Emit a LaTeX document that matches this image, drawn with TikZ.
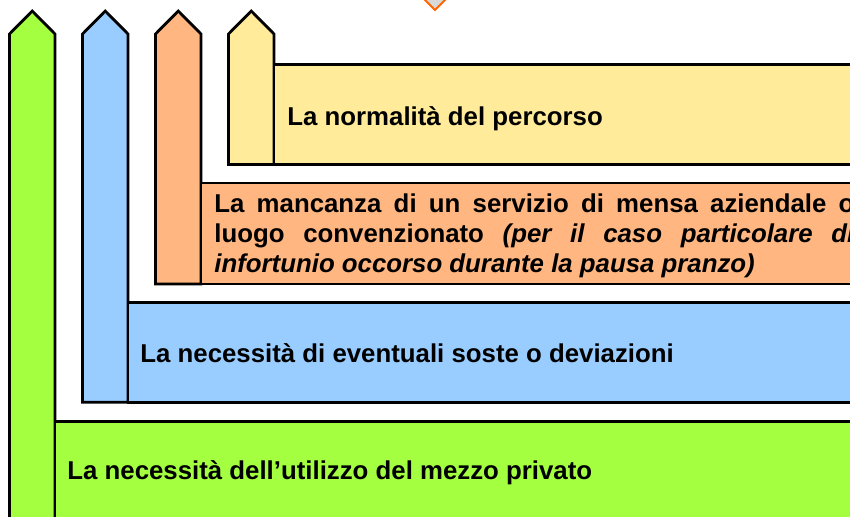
\documentclass[tikz,border=0pt]{standalone}
\usepackage{fontspec}
\setmainfont{Liberation Sans}
\definecolor{verde}{RGB}{163,255,63}
\definecolor{azzurro}{RGB}{153,204,255}
\definecolor{arancio}{RGB}{255,182,128}
\definecolor{giallo}{RGB}{255,235,153}
\definecolor{bordo}{RGB}{255,102,0}
\definecolor{grigio}{RGB}{217,217,217}

\begin{document}
\begin{tikzpicture}[x=1pt,y=-1pt,line width=2.8pt,
  testo/.style={anchor=base west,inner sep=0pt,font=\fontsize{25.8}{30}\selectfont\bfseries}]
\useasboundingbox (0,0) rectangle (850,516);
\clip (0,0) rectangle (850,516);

\draw[bordo,line width=2pt,fill=grigio] (421,-4) -- (435,10) -- (449,-4);

\draw[fill=verde] (9.5,530) -- (9.5,34) -- (32.25,11) -- (55,34) -- (55,530);
\draw[fill=azzurro] (82.5,402.3) -- (82.5,34) -- (105.25,11) -- (128,34) -- (128,402.3) -- cycle;
\draw[fill=arancio] (155.5,284) -- (155.5,34) -- (178.25,11) -- (201,34) -- (201,284) -- cycle;
\draw[fill=giallo] (228.5,164.5) -- (228.5,34) -- (251.25,11) -- (274,34) -- (274,164.5) -- cycle;

\draw[fill=giallo] (274,64.5) rectangle (870,164.5);
\draw[fill=arancio] (201,183) rectangle (870,284);
\draw[fill=azzurro] (128,302.3) rectangle (870,402.3);
\draw[fill=verde] (55,421.3) rectangle (870,540);

\node[testo] (percorso) at (286,125) {La normalità del percorso};
\node[testo,text width=640pt,align=justify] (mensa) at (213,212) {La mancanza di un servizio di mensa aziendale o\linebreak luogo convenzionato \textit{(per il caso particolare di\linebreak infortunio occorso durante la pausa pranzo)}};
\node[testo] (soste) at (139,362) {La necessità di eventuali soste o deviazioni};
\node[testo] (mezzo) at (66,479) {La necessità dell’utilizzo del mezzo privato};
\end{tikzpicture}
\end{document}
